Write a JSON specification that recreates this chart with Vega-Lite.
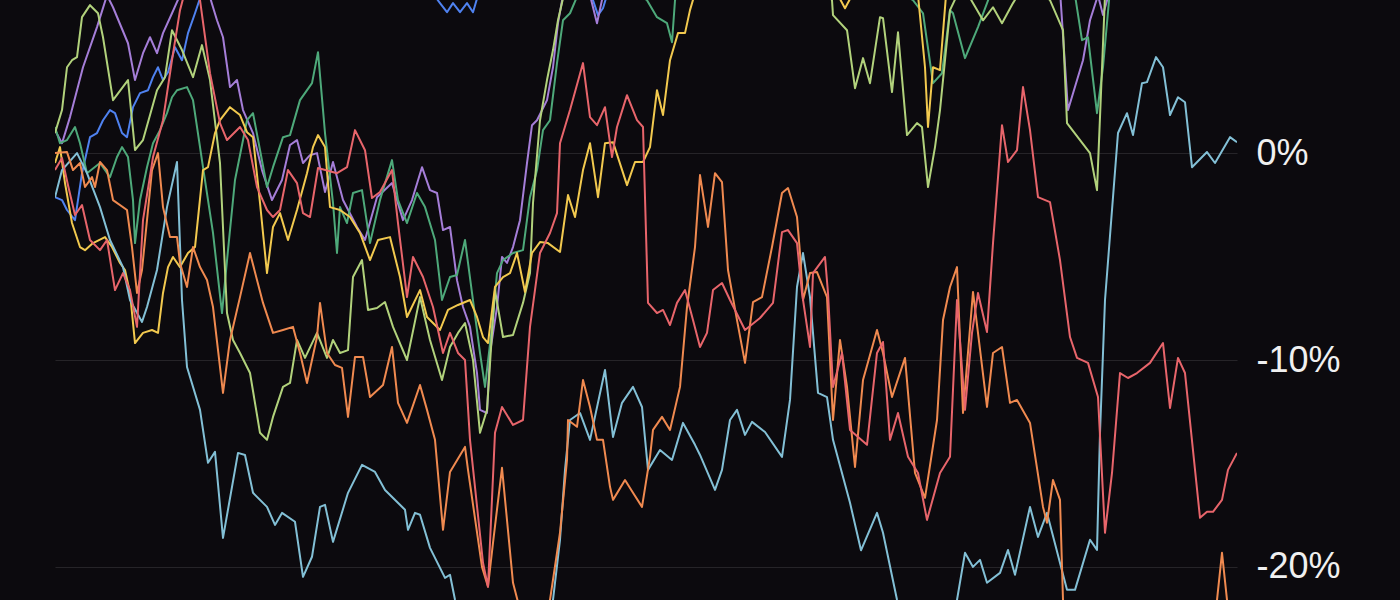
{
"$schema": "https://vega.github.io/schema/vega-lite/v6.json",
"width": 1182, "height": 600,
"autosize": {"type": "none"},
"padding": {"left": 55, "top": 0, "right": 163, "bottom": 0},
"background": "#0c0a0e",
"config": {"view": {"stroke": null}},
"data": {"values": [
{"s":"Blue","d":0,"v":-2.13},{"s":"Blue","d":1.4,"v":-2.27},{"s":"Blue","d":2.4,"v":-2.75},{"s":"Blue","d":4,"v":-3.24},{"s":"Blue","d":5.4,"v":-0.97},{"s":"Blue","d":7,"v":0.77},{"s":"Blue","d":8.4,"v":0.97},{"s":"Blue","d":9.6,"v":1.59},{"s":"Blue","d":11,"v":2.08},{"s":"Blue","d":12,"v":1.93},{"s":"Blue","d":13.4,"v":0.97},{"s":"Blue","d":14.4,"v":0.77},{"s":"Blue","d":15.6,"v":2.22},{"s":"Blue","d":17,"v":2.9},{"s":"Blue","d":18.6,"v":3.04},{"s":"Blue","d":19.6,"v":3.67},{"s":"Blue","d":20.6,"v":4.15},{"s":"Blue","d":21.6,"v":3.53},{"s":"Blue","d":22.6,"v":3.91},{"s":"Blue","d":24,"v":5.12},{"s":"Blue","d":25.4,"v":4.49},{"s":"Blue","d":26.6,"v":5.8},{"s":"Blue","d":28,"v":6.76},{"s":"Blue","d":30,"v":8.2},{"s":"Blue","d":35,"v":9.0},{"s":"Blue","d":41,"v":9.6},{"s":"Blue","d":49,"v":10.2},{"s":"Blue","d":57,"v":9.8},{"s":"Blue","d":65,"v":9.2},{"s":"Blue","d":71,"v":8.6},{"s":"Blue","d":75,"v":7.9},{"s":"Blue","d":77,"v":7.25},{"s":"Blue","d":78.4,"v":6.81},{"s":"Blue","d":79.6,"v":7.25},{"s":"Blue","d":81,"v":6.81},{"s":"Blue","d":82.4,"v":7.25},{"s":"Blue","d":83.6,"v":6.81},{"s":"Blue","d":84.6,"v":7.63},{"s":"Blue","d":87,"v":8.3},{"s":"Blue","d":93,"v":9.5},{"s":"Blue","d":101,"v":10.1},{"s":"Blue","d":106,"v":8.0},{"s":"Blue","d":107.6,"v":7.39},{"s":"Blue","d":108.6,"v":6.67},{"s":"Blue","d":109.6,"v":7.0},{"s":"Blue","d":110.6,"v":7.8},{"s":"Blue","d":115,"v":9.5},{"s":"Blue","d":125,"v":11.2},{"s":"Blue","d":139,"v":10.4},{"s":"Blue","d":153,"v":11.0},{"s":"Blue","d":169,"v":10.2},{"s":"Blue","d":185,"v":11.6},{"s":"Blue","d":199,"v":10.8},{"s":"Blue","d":213,"v":12.0},{"s":"Blue","d":225,"v":11.3},{"s":"Blue","d":236.4,"v":12.0},
{"s":"Purple","d":0,"v":1.11},{"s":"Purple","d":1.4,"v":0.48},{"s":"Purple","d":3,"v":1.74},{"s":"Purple","d":5.6,"v":4.15},{"s":"Purple","d":8.4,"v":6.09},{"s":"Purple","d":10.4,"v":7.63},{"s":"Purple","d":11.6,"v":7.05},{"s":"Purple","d":14.6,"v":5.31},{"s":"Purple","d":16,"v":3.53},{"s":"Purple","d":17.6,"v":4.83},{"s":"Purple","d":19,"v":5.6},{"s":"Purple","d":20.4,"v":4.83},{"s":"Purple","d":21.6,"v":5.8},{"s":"Purple","d":23.4,"v":6.76},{"s":"Purple","d":25,"v":7.63},{"s":"Purple","d":28,"v":8.4},{"s":"Purple","d":31,"v":7.53},{"s":"Purple","d":32.4,"v":6.42},{"s":"Purple","d":33.6,"v":5.6},{"s":"Purple","d":35,"v":3.19},{"s":"Purple","d":36.4,"v":3.53},{"s":"Purple","d":37.6,"v":2.08},{"s":"Purple","d":39.6,"v":0.97},{"s":"Purple","d":41.4,"v":-0.82},{"s":"Purple","d":43.4,"v":-2.27},{"s":"Purple","d":45.4,"v":-1.3},{"s":"Purple","d":47,"v":0.39},{"s":"Purple","d":48.4,"v":0.63},{"s":"Purple","d":49.6,"v":-0.48},{"s":"Purple","d":51,"v":-0.1},{"s":"Purple","d":52.4,"v":0.0},{"s":"Purple","d":54,"v":-1.88},{"s":"Purple","d":55.6,"v":-0.43},{"s":"Purple","d":57.6,"v":-2.27},{"s":"Purple","d":60.4,"v":-3.57},{"s":"Purple","d":62,"v":-4.2},{"s":"Purple","d":64.4,"v":-2.13},{"s":"Purple","d":67.4,"v":-1.45},{"s":"Purple","d":69.6,"v":-3.24},{"s":"Purple","d":71.4,"v":-2.27},{"s":"Purple","d":73.4,"v":-0.68},{"s":"Purple","d":75,"v":-1.79},{"s":"Purple","d":76.4,"v":-1.93},{"s":"Purple","d":77.6,"v":-3.72},{"s":"Purple","d":79,"v":-3.57},{"s":"Purple","d":80.4,"v":-6.14},{"s":"Purple","d":81.6,"v":-7.44},{"s":"Purple","d":83,"v":-8.4},{"s":"Purple","d":84.4,"v":-10.63},{"s":"Purple","d":85,"v":-12.41},{"s":"Purple","d":86.4,"v":-12.56},{"s":"Purple","d":87,"v":-9.66},{"s":"Purple","d":88.4,"v":-7.44},{"s":"Purple","d":89.4,"v":-5.02},{"s":"Purple","d":90.4,"v":-5.31},{"s":"Purple","d":91.6,"v":-4.54},{"s":"Purple","d":93,"v":-3.24},{"s":"Purple","d":94.4,"v":-0.48},{"s":"Purple","d":95.4,"v":1.35},{"s":"Purple","d":96.4,"v":1.59},{"s":"Purple","d":98.4,"v":2.56},{"s":"Purple","d":99.6,"v":4.15},{"s":"Purple","d":100.6,"v":6.28},{"s":"Purple","d":101.6,"v":7.63},{"s":"Purple","d":104,"v":8.5},{"s":"Purple","d":107,"v":7.63},{"s":"Purple","d":108.4,"v":6.28},{"s":"Purple","d":109.6,"v":7.63},{"s":"Purple","d":113,"v":9.0},{"s":"Purple","d":125,"v":10.5},{"s":"Purple","d":141,"v":9.8},{"s":"Purple","d":157,"v":10.6},{"s":"Purple","d":173,"v":9.6},{"s":"Purple","d":187,"v":10.3},{"s":"Purple","d":199,"v":9.0},{"s":"Purple","d":201,"v":7.87},{"s":"Purple","d":202.6,"v":2.08},{"s":"Purple","d":205.6,"v":4.49},{"s":"Purple","d":207,"v":6.42},{"s":"Purple","d":208.6,"v":7.63},{"s":"Purple","d":209.6,"v":6.67},{"s":"Purple","d":211,"v":7.9},{"s":"Purple","d":221,"v":9.8},{"s":"Purple","d":236.4,"v":10.5},
{"s":"Green","d":0,"v":1.26},{"s":"Green","d":1,"v":0.48},{"s":"Green","d":2.4,"v":0.63},{"s":"Green","d":4,"v":1.26},{"s":"Green","d":5,"v":0.48},{"s":"Green","d":6.4,"v":-0.97},{"s":"Green","d":9,"v":-0.48},{"s":"Green","d":11,"v":-1.16},{"s":"Green","d":12.4,"v":-0.19},{"s":"Green","d":13.4,"v":0.29},{"s":"Green","d":14.6,"v":-0.19},{"s":"Green","d":15.6,"v":-2.27},{"s":"Green","d":16,"v":-4.35},{"s":"Green","d":17,"v":-2.27},{"s":"Green","d":18.4,"v":-0.68},{"s":"Green","d":19.6,"v":0.48},{"s":"Green","d":21,"v":1.11},{"s":"Green","d":22.4,"v":1.93},{"s":"Green","d":23.4,"v":2.7},{"s":"Green","d":24.4,"v":3.04},{"s":"Green","d":26.4,"v":3.19},{"s":"Green","d":27.6,"v":2.56},{"s":"Green","d":29.6,"v":-0.68},{"s":"Green","d":31.6,"v":-3.86},{"s":"Green","d":33.4,"v":-7.73},{"s":"Green","d":34.6,"v":-4.69},{"s":"Green","d":36,"v":-1.3},{"s":"Green","d":38.4,"v":1.59},{"s":"Green","d":39.6,"v":1.93},{"s":"Green","d":41,"v":0.15},{"s":"Green","d":42.4,"v":-1.64},{"s":"Green","d":43.6,"v":-0.68},{"s":"Green","d":45.6,"v":0.77},{"s":"Green","d":47,"v":0.87},{"s":"Green","d":49,"v":2.56},{"s":"Green","d":51.4,"v":3.38},{"s":"Green","d":52.6,"v":4.88},{"s":"Green","d":54,"v":0.97},{"s":"Green","d":55.6,"v":-2.41},{"s":"Green","d":56.4,"v":-4.83},{"s":"Green","d":57,"v":-2.61},{"s":"Green","d":58.4,"v":-3.38},{"s":"Green","d":59.6,"v":-1.93},{"s":"Green","d":61.4,"v":-1.79},{"s":"Green","d":63,"v":-4.35},{"s":"Green","d":65,"v":-2.27},{"s":"Green","d":67.4,"v":-0.34},{"s":"Green","d":68.6,"v":-2.27},{"s":"Green","d":70.4,"v":-3.38},{"s":"Green","d":72.4,"v":-1.93},{"s":"Green","d":74,"v":-2.61},{"s":"Green","d":76,"v":-4.2},{"s":"Green","d":77.4,"v":-7.1},{"s":"Green","d":79,"v":-5.99},{"s":"Green","d":80.4,"v":-5.89},{"s":"Green","d":82,"v":-4.2},{"s":"Green","d":83.4,"v":-6.76},{"s":"Green","d":85,"v":-9.66},{"s":"Green","d":86,"v":-11.3},{"s":"Green","d":87.4,"v":-8.4},{"s":"Green","d":88.4,"v":-5.8},{"s":"Green","d":89.6,"v":-5.17},{"s":"Green","d":91.6,"v":-4.83},{"s":"Green","d":93.6,"v":-4.69},{"s":"Green","d":95,"v":-2.13},{"s":"Green","d":96.4,"v":-0.82},{"s":"Green","d":97.6,"v":1.11},{"s":"Green","d":99,"v":1.59},{"s":"Green","d":100.4,"v":4.35},{"s":"Green","d":101.6,"v":6.42},{"s":"Green","d":103,"v":6.76},{"s":"Green","d":105,"v":7.9},{"s":"Green","d":111,"v":9.3},{"s":"Green","d":117,"v":7.63},{"s":"Green","d":118.4,"v":7.39},{"s":"Green","d":120.4,"v":6.57},{"s":"Green","d":122.4,"v":6.28},{"s":"Green","d":123.4,"v":5.36},{"s":"Green","d":124,"v":7.39},{"s":"Green","d":125,"v":7.9},{"s":"Green","d":133,"v":9.2},{"s":"Green","d":145,"v":10.0},{"s":"Green","d":159,"v":9.1},{"s":"Green","d":170,"v":7.63},{"s":"Green","d":171.6,"v":7.39},{"s":"Green","d":173.6,"v":6.76},{"s":"Green","d":175.6,"v":3.38},{"s":"Green","d":177.4,"v":3.86},{"s":"Green","d":179,"v":6.91},{"s":"Green","d":179.6,"v":6.76},{"s":"Green","d":182,"v":4.59},{"s":"Green","d":184.6,"v":6.09},{"s":"Green","d":187,"v":7.63},{"s":"Green","d":195,"v":8.6},{"s":"Green","d":204,"v":7.63},{"s":"Green","d":205.4,"v":5.46},{"s":"Green","d":206.6,"v":5.6},{"s":"Green","d":208.4,"v":1.93},{"s":"Green","d":209.6,"v":4.15},{"s":"Green","d":211,"v":7.9},{"s":"Green","d":223,"v":9.0},{"s":"Green","d":236.4,"v":9.6},
{"s":"Lime","d":0,"v":0.97},{"s":"Lime","d":1.4,"v":2.08},{"s":"Lime","d":2.4,"v":4.15},{"s":"Lime","d":3.4,"v":4.49},{"s":"Lime","d":4.4,"v":4.64},{"s":"Lime","d":5.4,"v":6.57},{"s":"Lime","d":7,"v":7.15},{"s":"Lime","d":8.6,"v":6.76},{"s":"Lime","d":9.6,"v":5.6},{"s":"Lime","d":11.6,"v":2.56},{"s":"Lime","d":14.6,"v":3.53},{"s":"Lime","d":16,"v":0.15},{"s":"Lime","d":17.6,"v":0.63},{"s":"Lime","d":20.4,"v":3.04},{"s":"Lime","d":22,"v":3.67},{"s":"Lime","d":23.4,"v":5.94},{"s":"Lime","d":25.4,"v":4.98},{"s":"Lime","d":27.6,"v":3.67},{"s":"Lime","d":29.4,"v":5.22},{"s":"Lime","d":31,"v":3.53},{"s":"Lime","d":33,"v":-0.48},{"s":"Lime","d":34.4,"v":-7.73},{"s":"Lime","d":35.6,"v":-9.03},{"s":"Lime","d":37,"v":-9.66},{"s":"Lime","d":39,"v":-10.63},{"s":"Lime","d":41,"v":-13.52},{"s":"Lime","d":42.4,"v":-13.86},{"s":"Lime","d":43.6,"v":-12.75},{"s":"Lime","d":45.6,"v":-11.3},{"s":"Lime","d":47,"v":-11.11},{"s":"Lime","d":48.4,"v":-9.03},{"s":"Lime","d":50,"v":-9.9},{"s":"Lime","d":52.4,"v":-8.69},{"s":"Lime","d":54.4,"v":-9.9},{"s":"Lime","d":55.6,"v":-9.03},{"s":"Lime","d":57,"v":-9.66},{"s":"Lime","d":58.6,"v":-9.52},{"s":"Lime","d":59.6,"v":-5.99},{"s":"Lime","d":61.4,"v":-5.17},{"s":"Lime","d":62.6,"v":-7.58},{"s":"Lime","d":64.4,"v":-7.49},{"s":"Lime","d":66,"v":-7.2},{"s":"Lime","d":67.6,"v":-8.4},{"s":"Lime","d":70.4,"v":-10.0},{"s":"Lime","d":73,"v":-6.96},{"s":"Lime","d":75,"v":-9.03},{"s":"Lime","d":77.4,"v":-10.97},{"s":"Lime","d":79,"v":-9.37},{"s":"Lime","d":80.6,"v":-8.69},{"s":"Lime","d":82,"v":-8.21},{"s":"Lime","d":83.6,"v":-10.0},{"s":"Lime","d":85,"v":-13.52},{"s":"Lime","d":86.4,"v":-12.41},{"s":"Lime","d":87.4,"v":-8.69},{"s":"Lime","d":88,"v":-6.62},{"s":"Lime","d":89.6,"v":-8.89},{"s":"Lime","d":91.6,"v":-8.79},{"s":"Lime","d":93.6,"v":-7.24},{"s":"Lime","d":95,"v":-5.8},{"s":"Lime","d":95.6,"v":-2.41},{"s":"Lime","d":97,"v":1.59},{"s":"Lime","d":98.4,"v":3.53},{"s":"Lime","d":99.6,"v":4.98},{"s":"Lime","d":100.6,"v":6.42},{"s":"Lime","d":102,"v":7.9},{"s":"Lime","d":113,"v":9.8},{"s":"Lime","d":129,"v":10.6},{"s":"Lime","d":145,"v":9.6},{"s":"Lime","d":154,"v":7.9},{"s":"Lime","d":155.4,"v":7.39},{"s":"Lime","d":155.6,"v":6.67},{"s":"Lime","d":158.4,"v":5.94},{"s":"Lime","d":160,"v":3.14},{"s":"Lime","d":161.6,"v":4.59},{"s":"Lime","d":163,"v":3.38},{"s":"Lime","d":165,"v":6.57},{"s":"Lime","d":165.6,"v":6.52},{"s":"Lime","d":167.4,"v":2.95},{"s":"Lime","d":168.6,"v":5.84},{"s":"Lime","d":170.4,"v":0.87},{"s":"Lime","d":172.4,"v":1.45},{"s":"Lime","d":173.4,"v":1.26},{"s":"Lime","d":174.6,"v":-1.64},{"s":"Lime","d":176,"v":0.29},{"s":"Lime","d":177,"v":2.08},{"s":"Lime","d":179,"v":6.91},{"s":"Lime","d":180.4,"v":7.63},{"s":"Lime","d":183,"v":7.5},{"s":"Lime","d":185.6,"v":6.42},{"s":"Lime","d":187.6,"v":7.05},{"s":"Lime","d":189.4,"v":6.28},{"s":"Lime","d":191.6,"v":7.25},{"s":"Lime","d":193,"v":7.8},{"s":"Lime","d":198,"v":7.63},{"s":"Lime","d":199,"v":7.39},{"s":"Lime","d":201.6,"v":5.94},{"s":"Lime","d":202.4,"v":1.45},{"s":"Lime","d":207,"v":0.0},{"s":"Lime","d":208.4,"v":-1.79},{"s":"Lime","d":210,"v":7.63},{"s":"Lime","d":221,"v":9.5},{"s":"Lime","d":236.4,"v":10.2},
{"s":"Yellow","d":0,"v":-0.48},{"s":"Yellow","d":1,"v":0.29},{"s":"Yellow","d":2,"v":-1.45},{"s":"Yellow","d":3.4,"v":-3.38},{"s":"Yellow","d":5,"v":-4.54},{"s":"Yellow","d":6,"v":-4.69},{"s":"Yellow","d":7.6,"v":-4.35},{"s":"Yellow","d":10,"v":-4.06},{"s":"Yellow","d":11.4,"v":-4.54},{"s":"Yellow","d":13,"v":-5.31},{"s":"Yellow","d":14,"v":-5.65},{"s":"Yellow","d":15,"v":-6.76},{"s":"Yellow","d":16,"v":-9.18},{"s":"Yellow","d":17.6,"v":-8.69},{"s":"Yellow","d":19.4,"v":-8.55},{"s":"Yellow","d":20.6,"v":-8.69},{"s":"Yellow","d":21.6,"v":-6.76},{"s":"Yellow","d":22.6,"v":-5.51},{"s":"Yellow","d":23.6,"v":-5.02},{"s":"Yellow","d":25,"v":-5.51},{"s":"Yellow","d":26.6,"v":-4.83},{"s":"Yellow","d":28,"v":-4.54},{"s":"Yellow","d":29.6,"v":-0.82},{"s":"Yellow","d":30.6,"v":-0.68},{"s":"Yellow","d":32,"v":0.97},{"s":"Yellow","d":33,"v":1.59},{"s":"Yellow","d":35,"v":2.22},{"s":"Yellow","d":37,"v":1.84},{"s":"Yellow","d":38.4,"v":1.01},{"s":"Yellow","d":39.6,"v":0.77},{"s":"Yellow","d":41,"v":-2.41},{"s":"Yellow","d":42.4,"v":-5.8},{"s":"Yellow","d":43.6,"v":-3.57},{"s":"Yellow","d":45,"v":-2.9},{"s":"Yellow","d":46.6,"v":-4.2},{"s":"Yellow","d":48.4,"v":-2.75},{"s":"Yellow","d":50.4,"v":-0.97},{"s":"Yellow","d":51.6,"v":0.29},{"s":"Yellow","d":52.6,"v":0.87},{"s":"Yellow","d":54,"v":0.29},{"s":"Yellow","d":55,"v":-2.61},{"s":"Yellow","d":57,"v":-2.75},{"s":"Yellow","d":59,"v":-3.09},{"s":"Yellow","d":61,"v":-3.86},{"s":"Yellow","d":63,"v":-5.17},{"s":"Yellow","d":64.6,"v":-4.2},{"s":"Yellow","d":67,"v":-4.06},{"s":"Yellow","d":69,"v":-5.99},{"s":"Yellow","d":70.4,"v":-7.92},{"s":"Yellow","d":73,"v":-6.62},{"s":"Yellow","d":74.4,"v":-7.92},{"s":"Yellow","d":77,"v":-8.55},{"s":"Yellow","d":78.6,"v":-7.58},{"s":"Yellow","d":80.6,"v":-7.34},{"s":"Yellow","d":83,"v":-7.1},{"s":"Yellow","d":84.4,"v":-7.92},{"s":"Yellow","d":85.6,"v":-8.89},{"s":"Yellow","d":86.6,"v":-9.18},{"s":"Yellow","d":88,"v":-6.47},{"s":"Yellow","d":89.6,"v":-5.99},{"s":"Yellow","d":91,"v":-5.8},{"s":"Yellow","d":92.4,"v":-4.83},{"s":"Yellow","d":94,"v":-6.71},{"s":"Yellow","d":95.4,"v":-4.83},{"s":"Yellow","d":97,"v":-4.3},{"s":"Yellow","d":98.6,"v":-4.35},{"s":"Yellow","d":101,"v":-4.78},{"s":"Yellow","d":102.6,"v":-2.03},{"s":"Yellow","d":104,"v":-3.09},{"s":"Yellow","d":105.6,"v":-0.82},{"s":"Yellow","d":107,"v":0.48},{"s":"Yellow","d":108.6,"v":-2.13},{"s":"Yellow","d":110,"v":0.48},{"s":"Yellow","d":111.6,"v":0.53},{"s":"Yellow","d":114.4,"v":-1.55},{"s":"Yellow","d":116,"v":-0.43},{"s":"Yellow","d":117.6,"v":-0.43},{"s":"Yellow","d":119,"v":0.29},{"s":"Yellow","d":120.4,"v":3.04},{"s":"Yellow","d":121.6,"v":1.84},{"s":"Yellow","d":123,"v":4.49},{"s":"Yellow","d":124.6,"v":5.8},{"s":"Yellow","d":126,"v":5.8},{"s":"Yellow","d":127,"v":6.91},{"s":"Yellow","d":128.2,"v":7.9},{"s":"Yellow","d":135,"v":9.4},{"s":"Yellow","d":147,"v":8.8},{"s":"Yellow","d":156.6,"v":7.63},{"s":"Yellow","d":158,"v":7.0},{"s":"Yellow","d":159.4,"v":7.63},{"s":"Yellow","d":165,"v":9.1},{"s":"Yellow","d":172.6,"v":7.63},{"s":"Yellow","d":174,"v":4.15},{"s":"Yellow","d":174.6,"v":1.26},{"s":"Yellow","d":175.6,"v":4.15},{"s":"Yellow","d":177,"v":4.01},{"s":"Yellow","d":178.2,"v":7.63},{"s":"Yellow","d":187,"v":9.6},{"s":"Yellow","d":201,"v":10.4},{"s":"Yellow","d":215,"v":11.0},{"s":"Yellow","d":236.4,"v":10.5},
{"s":"Cyan","d":0,"v":-2.13},{"s":"Cyan","d":1.4,"v":-0.82},{"s":"Cyan","d":4.4,"v":0},{"s":"Cyan","d":6.4,"v":-0.97},{"s":"Cyan","d":9,"v":-2.61},{"s":"Cyan","d":11,"v":-4.2},{"s":"Cyan","d":13.6,"v":-5.51},{"s":"Cyan","d":15,"v":-7.1},{"s":"Cyan","d":17.4,"v":-8.16},{"s":"Cyan","d":18.4,"v":-7.44},{"s":"Cyan","d":20.4,"v":-5.65},{"s":"Cyan","d":22.4,"v":-2.61},{"s":"Cyan","d":24.4,"v":-0.43},{"s":"Cyan","d":25.4,"v":-7.1},{"s":"Cyan","d":26.4,"v":-10.34},{"s":"Cyan","d":29,"v":-12.41},{"s":"Cyan","d":30.6,"v":-14.97},{"s":"Cyan","d":32,"v":-14.44},{"s":"Cyan","d":33.6,"v":-18.6},{"s":"Cyan","d":36.6,"v":-14.49},{"s":"Cyan","d":38,"v":-14.59},{"s":"Cyan","d":39.6,"v":-16.42},{"s":"Cyan","d":42.4,"v":-17.1},{"s":"Cyan","d":44,"v":-17.97},{"s":"Cyan","d":45.4,"v":-17.39},{"s":"Cyan","d":48,"v":-17.82},{"s":"Cyan","d":49.6,"v":-20.48},{"s":"Cyan","d":51.4,"v":-19.51},{"s":"Cyan","d":53,"v":-17.1},{"s":"Cyan","d":54,"v":-17.0},{"s":"Cyan","d":55.6,"v":-18.79},{"s":"Cyan","d":58.6,"v":-16.42},{"s":"Cyan","d":61.4,"v":-15.07},{"s":"Cyan","d":64,"v":-15.41},{"s":"Cyan","d":66,"v":-16.28},{"s":"Cyan","d":70,"v":-17.24},{"s":"Cyan","d":70.6,"v":-18.21},{"s":"Cyan","d":72,"v":-17.39},{"s":"Cyan","d":73,"v":-17.48},{"s":"Cyan","d":75,"v":-19.08},{"s":"Cyan","d":78,"v":-20.53},{"s":"Cyan","d":79,"v":-20.38},{"s":"Cyan","d":80,"v":-21.59},{"s":"Cyan","d":82,"v":-23.04},{"s":"Cyan","d":87,"v":-24.49},{"s":"Cyan","d":93,"v":-24.49},{"s":"Cyan","d":98,"v":-23.52},{"s":"Cyan","d":99.6,"v":-21.59},{"s":"Cyan","d":101,"v":-18.69},{"s":"Cyan","d":102,"v":-15.31},{"s":"Cyan","d":103,"v":-12.9},{"s":"Cyan","d":105,"v":-12.56},{"s":"Cyan","d":107,"v":-13.86},{"s":"Cyan","d":110,"v":-10.48},{"s":"Cyan","d":111.6,"v":-13.72},{"s":"Cyan","d":113.4,"v":-12.07},{"s":"Cyan","d":115.6,"v":-11.3},{"s":"Cyan","d":117.4,"v":-12.27},{"s":"Cyan","d":118.6,"v":-15.31},{"s":"Cyan","d":121,"v":-14.35},{"s":"Cyan","d":123.4,"v":-14.83},{"s":"Cyan","d":125.6,"v":-13.04},{"s":"Cyan","d":128,"v":-14.1},{"s":"Cyan","d":129,"v":-14.59},{"s":"Cyan","d":132,"v":-16.28},{"s":"Cyan","d":133.4,"v":-15.31},{"s":"Cyan","d":135,"v":-12.9},{"s":"Cyan","d":136.4,"v":-12.41},{"s":"Cyan","d":138,"v":-13.62},{"s":"Cyan","d":139.4,"v":-12.99},{"s":"Cyan","d":142,"v":-13.48},{"s":"Cyan","d":145.4,"v":-14.68},{"s":"Cyan","d":147,"v":-11.93},{"s":"Cyan","d":148.4,"v":-6.47},{"s":"Cyan","d":149.6,"v":-4.83},{"s":"Cyan","d":151,"v":-6.96},{"s":"Cyan","d":152.6,"v":-11.59},{"s":"Cyan","d":154.4,"v":-11.79},{"s":"Cyan","d":155.6,"v":-13.86},{"s":"Cyan","d":159,"v":-16.9},{"s":"Cyan","d":161.2,"v":-19.2},{"s":"Cyan","d":164.4,"v":-17.39},{"s":"Cyan","d":165.6,"v":-18.35},{"s":"Cyan","d":168.4,"v":-21.59},{"s":"Cyan","d":171,"v":-23.52},{"s":"Cyan","d":177,"v":-23.52},{"s":"Cyan","d":180.4,"v":-21.59},{"s":"Cyan","d":182,"v":-19.32},{"s":"Cyan","d":183.6,"v":-20.0},{"s":"Cyan","d":185,"v":-19.66},{"s":"Cyan","d":186.4,"v":-20.77},{"s":"Cyan","d":189,"v":-20.29},{"s":"Cyan","d":190.6,"v":-19.18},{"s":"Cyan","d":192,"v":-20.38},{"s":"Cyan","d":195,"v":-17.1},{"s":"Cyan","d":196.6,"v":-18.55},{"s":"Cyan","d":198.4,"v":-17.39},{"s":"Cyan","d":202.4,"v":-21.11},{"s":"Cyan","d":204,"v":-21.11},{"s":"Cyan","d":207,"v":-18.69},{"s":"Cyan","d":208.4,"v":-19.18},{"s":"Cyan","d":209,"v":-13.52},{"s":"Cyan","d":210,"v":-7.1},{"s":"Cyan","d":212.6,"v":0.97},{"s":"Cyan","d":214.4,"v":1.93},{"s":"Cyan","d":215.6,"v":0.87},{"s":"Cyan","d":217.4,"v":3.38},{"s":"Cyan","d":218.4,"v":3.43},{"s":"Cyan","d":220.2,"v":4.64},{"s":"Cyan","d":221.6,"v":4.15},{"s":"Cyan","d":223,"v":1.84},{"s":"Cyan","d":224.6,"v":2.7},{"s":"Cyan","d":226,"v":2.46},{"s":"Cyan","d":227.4,"v":-0.68},{"s":"Cyan","d":230.4,"v":0.05},{"s":"Cyan","d":232,"v":-0.48},{"s":"Cyan","d":235,"v":0.77},{"s":"Cyan","d":236.4,"v":0.53},
{"s":"Orange","d":0,"v":0.0},{"s":"Orange","d":2.4,"v":0.05},{"s":"Orange","d":3.6,"v":-0.82},{"s":"Orange","d":5,"v":-0.48},{"s":"Orange","d":6,"v":-1.64},{"s":"Orange","d":7.4,"v":-1.16},{"s":"Orange","d":8,"v":-1.64},{"s":"Orange","d":9,"v":-0.43},{"s":"Orange","d":10.4,"v":-0.82},{"s":"Orange","d":11.6,"v":-2.27},{"s":"Orange","d":14.4,"v":-2.75},{"s":"Orange","d":15.4,"v":-4.54},{"s":"Orange","d":16.4,"v":-6.76},{"s":"Orange","d":17.4,"v":-5.65},{"s":"Orange","d":18.4,"v":-3.24},{"s":"Orange","d":19.4,"v":-0.82},{"s":"Orange","d":20.6,"v":0.0},{"s":"Orange","d":21.6,"v":-2.61},{"s":"Orange","d":23,"v":-4.06},{"s":"Orange","d":24.4,"v":-4.06},{"s":"Orange","d":25,"v":-5.31},{"s":"Orange","d":26.4,"v":-6.47},{"s":"Orange","d":27.6,"v":-4.54},{"s":"Orange","d":29,"v":-5.51},{"s":"Orange","d":30.4,"v":-6.13},{"s":"Orange","d":31.6,"v":-7.44},{"s":"Orange","d":33.6,"v":-11.59},{"s":"Orange","d":35,"v":-9.03},{"s":"Orange","d":37,"v":-6.96},{"s":"Orange","d":39,"v":-4.83},{"s":"Orange","d":40.4,"v":-6.13},{"s":"Orange","d":41.6,"v":-7.24},{"s":"Orange","d":43.6,"v":-8.69},{"s":"Orange","d":45.6,"v":-8.55},{"s":"Orange","d":47.6,"v":-8.4},{"s":"Orange","d":49,"v":-9.66},{"s":"Orange","d":50.4,"v":-11.11},{"s":"Orange","d":52.4,"v":-8.89},{"s":"Orange","d":53,"v":-7.24},{"s":"Orange","d":54.4,"v":-9.66},{"s":"Orange","d":56,"v":-10.24},{"s":"Orange","d":57.4,"v":-10.38},{"s":"Orange","d":58.6,"v":-12.75},{"s":"Orange","d":60,"v":-9.85},{"s":"Orange","d":61.6,"v":-9.85},{"s":"Orange","d":63,"v":-11.79},{"s":"Orange","d":65.6,"v":-11.21},{"s":"Orange","d":67.4,"v":-9.37},{"s":"Orange","d":68.6,"v":-12.07},{"s":"Orange","d":70.4,"v":-13.04},{"s":"Orange","d":73,"v":-11.21},{"s":"Orange","d":74.4,"v":-12.41},{"s":"Orange","d":76,"v":-13.86},{"s":"Orange","d":77.6,"v":-18.21},{"s":"Orange","d":79,"v":-15.41},{"s":"Orange","d":82,"v":-14.2},{"s":"Orange","d":82.6,"v":-15.31},{"s":"Orange","d":85.4,"v":-20.0},{"s":"Orange","d":86.6,"v":-20.96},{"s":"Orange","d":87.6,"v":-18.84},{"s":"Orange","d":89.4,"v":-15.21},{"s":"Orange","d":91.6,"v":-20.77},{"s":"Orange","d":93,"v":-22.07},{"s":"Orange","d":95,"v":-23.52},{"s":"Orange","d":98,"v":-22.56},{"s":"Orange","d":99,"v":-21.59},{"s":"Orange","d":101,"v":-18.35},{"s":"Orange","d":102.4,"v":-14.83},{"s":"Orange","d":102.6,"v":-12.9},{"s":"Orange","d":104.4,"v":-13.23},{"s":"Orange","d":105.6,"v":-10.97},{"s":"Orange","d":107,"v":-12.27},{"s":"Orange","d":108.4,"v":-13.86},{"s":"Orange","d":109.6,"v":-13.86},{"s":"Orange","d":111,"v":-16.13},{"s":"Orange","d":111.6,"v":-16.76},{"s":"Orange","d":114,"v":-15.8},{"s":"Orange","d":115.6,"v":-16.42},{"s":"Orange","d":117.4,"v":-17.1},{"s":"Orange","d":119,"v":-14.68},{"s":"Orange","d":119.6,"v":-13.38},{"s":"Orange","d":121.4,"v":-12.75},{"s":"Orange","d":123,"v":-13.38},{"s":"Orange","d":125,"v":-11.3},{"s":"Orange","d":126.4,"v":-7.44},{"s":"Orange","d":128,"v":-4.54},{"s":"Orange","d":129,"v":-1.06},{"s":"Orange","d":130.6,"v":-3.57},{"s":"Orange","d":132,"v":-0.97},{"s":"Orange","d":133.4,"v":-1.4},{"s":"Orange","d":134.6,"v":-5.65},{"s":"Orange","d":136.4,"v":-8.07},{"s":"Orange","d":138,"v":-10.14},{"s":"Orange","d":139.6,"v":-7.2},{"s":"Orange","d":141.4,"v":-6.96},{"s":"Orange","d":143.4,"v":-4.54},{"s":"Orange","d":145.4,"v":-1.93},{"s":"Orange","d":146.6,"v":-1.69},{"s":"Orange","d":148.4,"v":-3.09},{"s":"Orange","d":149,"v":-4.83},{"s":"Orange","d":149.6,"v":-7.1},{"s":"Orange","d":151,"v":-5.8},{"s":"Orange","d":152.4,"v":-5.75},{"s":"Orange","d":154.4,"v":-6.96},{"s":"Orange","d":155.6,"v":-12.9},{"s":"Orange","d":157,"v":-9.03},{"s":"Orange","d":158.4,"v":-11.3},{"s":"Orange","d":160,"v":-15.17},{"s":"Orange","d":161.6,"v":-10.97},{"s":"Orange","d":164.4,"v":-8.55},{"s":"Orange","d":165.6,"v":-9.66},{"s":"Orange","d":167.4,"v":-11.79},{"s":"Orange","d":170,"v":-9.9},{"s":"Orange","d":172,"v":-15.46},{"s":"Orange","d":174,"v":-16.66},{"s":"Orange","d":176.4,"v":-12.9},{"s":"Orange","d":177.6,"v":-8.07},{"s":"Orange","d":179,"v":-6.47},{"s":"Orange","d":180.4,"v":-5.51},{"s":"Orange","d":181.6,"v":-12.56},{"s":"Orange","d":183.6,"v":-6.71},{"s":"Orange","d":186.4,"v":-12.27},{"s":"Orange","d":187.6,"v":-9.66},{"s":"Orange","d":189.4,"v":-9.37},{"s":"Orange","d":191,"v":-12.07},{"s":"Orange","d":192.4,"v":-11.93},{"s":"Orange","d":195,"v":-13.04},{"s":"Orange","d":197.6,"v":-17.1},{"s":"Orange","d":198.4,"v":-17.87},{"s":"Orange","d":199.6,"v":-15.8},{"s":"Orange","d":201,"v":-16.76},{"s":"Orange","d":201.6,"v":-21.59},{"s":"Orange","d":203,"v":-24.49},{"s":"Orange","d":207,"v":-26.4},{"s":"Orange","d":213,"v":-25.5},{"s":"Orange","d":219,"v":-27.4},{"s":"Orange","d":225,"v":-26.0},{"s":"Orange","d":231,"v":-24.0},{"s":"Orange","d":232.4,"v":-21.59},{"s":"Orange","d":233.4,"v":-19.32},{"s":"Orange","d":234.4,"v":-21.59},{"s":"Orange","d":236.4,"v":-24.49},
{"s":"Coral","d":0,"v":-0.82},{"s":"Coral","d":1.4,"v":-0.24},{"s":"Coral","d":2.6,"v":-1.55},{"s":"Coral","d":4,"v":-2.99},{"s":"Coral","d":5.4,"v":-2.51},{"s":"Coral","d":7,"v":-4.2},{"s":"Coral","d":9,"v":-4.69},{"s":"Coral","d":10.4,"v":-4.2},{"s":"Coral","d":12,"v":-6.62},{"s":"Coral","d":13.6,"v":-5.8},{"s":"Coral","d":15,"v":-6.62},{"s":"Coral","d":16.4,"v":-8.4},{"s":"Coral","d":17.6,"v":-3.24},{"s":"Coral","d":19.6,"v":-0.19},{"s":"Coral","d":21.6,"v":1.59},{"s":"Coral","d":23.4,"v":4.49},{"s":"Coral","d":25,"v":6.91},{"s":"Coral","d":26.6,"v":8.36},{"s":"Coral","d":28,"v":8.1},{"s":"Coral","d":29,"v":7.39},{"s":"Coral","d":31,"v":3.86},{"s":"Coral","d":33,"v":1.45},{"s":"Coral","d":34.4,"v":0.63},{"s":"Coral","d":37,"v":1.26},{"s":"Coral","d":38.6,"v":0.63},{"s":"Coral","d":40.4,"v":-1.64},{"s":"Coral","d":42.4,"v":-2.75},{"s":"Coral","d":43.6,"v":-3.09},{"s":"Coral","d":45,"v":-2.75},{"s":"Coral","d":46.6,"v":-0.82},{"s":"Coral","d":48.4,"v":-1.45},{"s":"Coral","d":49.6,"v":-2.9},{"s":"Coral","d":51,"v":-3.09},{"s":"Coral","d":52.6,"v":-0.72},{"s":"Coral","d":56.4,"v":-0.97},{"s":"Coral","d":58.4,"v":-0.68},{"s":"Coral","d":60,"v":1.11},{"s":"Coral","d":62,"v":0.14},{"s":"Coral","d":63.4,"v":-2.17},{"s":"Coral","d":65,"v":-1.88},{"s":"Coral","d":67.4,"v":-0.82},{"s":"Coral","d":68.6,"v":-3.38},{"s":"Coral","d":70.4,"v":-6.96},{"s":"Coral","d":71.6,"v":-5.02},{"s":"Coral","d":73.6,"v":-5.99},{"s":"Coral","d":75.6,"v":-7.44},{"s":"Coral","d":77.6,"v":-9.66},{"s":"Coral","d":79,"v":-8.69},{"s":"Coral","d":80.6,"v":-9.66},{"s":"Coral","d":82,"v":-10.0},{"s":"Coral","d":83,"v":-13.86},{"s":"Coral","d":85.6,"v":-19.8},{"s":"Coral","d":86.6,"v":-20.96},{"s":"Coral","d":88,"v":-13.52},{"s":"Coral","d":89.4,"v":-12.27},{"s":"Coral","d":91.6,"v":-13.14},{"s":"Coral","d":93.6,"v":-12.9},{"s":"Coral","d":95,"v":-8.4},{"s":"Coral","d":97,"v":-4.83},{"s":"Coral","d":99,"v":-3.86},{"s":"Coral","d":100.4,"v":-2.9},{"s":"Coral","d":101,"v":0.48},{"s":"Coral","d":103,"v":2.08},{"s":"Coral","d":105.6,"v":4.35},{"s":"Coral","d":107,"v":1.74},{"s":"Coral","d":108.4,"v":1.35},{"s":"Coral","d":110,"v":2.22},{"s":"Coral","d":111.4,"v":-0.19},{"s":"Coral","d":112.4,"v":1.26},{"s":"Coral","d":114.4,"v":2.8},{"s":"Coral","d":116.4,"v":1.59},{"s":"Coral","d":117.6,"v":1.26},{"s":"Coral","d":118.6,"v":-7.24},{"s":"Coral","d":120.4,"v":-7.73},{"s":"Coral","d":121.6,"v":-7.58},{"s":"Coral","d":123,"v":-8.31},{"s":"Coral","d":124.4,"v":-7.24},{"s":"Coral","d":126,"v":-6.62},{"s":"Coral","d":127.6,"v":-8.07},{"s":"Coral","d":129,"v":-9.37},{"s":"Coral","d":130.4,"v":-8.69},{"s":"Coral","d":131.6,"v":-6.62},{"s":"Coral","d":133.4,"v":-6.28},{"s":"Coral","d":135,"v":-7.1},{"s":"Coral","d":138,"v":-8.55},{"s":"Coral","d":141,"v":-7.97},{"s":"Coral","d":143.6,"v":-7.24},{"s":"Coral","d":145.4,"v":-3.82},{"s":"Coral","d":146.6,"v":-3.72},{"s":"Coral","d":148.4,"v":-4.35},{"s":"Coral","d":149.4,"v":-6.76},{"s":"Coral","d":151,"v":-9.37},{"s":"Coral","d":151.6,"v":-5.8},{"s":"Coral","d":154,"v":-5.02},{"s":"Coral","d":154.6,"v":-6.76},{"s":"Coral","d":155.6,"v":-11.3},{"s":"Coral","d":157.4,"v":-9.66},{"s":"Coral","d":159,"v":-13.38},{"s":"Coral","d":162.4,"v":-14.1},{"s":"Coral","d":164.4,"v":-9.66},{"s":"Coral","d":165.6,"v":-9.13},{"s":"Coral","d":167,"v":-13.86},{"s":"Coral","d":168.6,"v":-12.56},{"s":"Coral","d":170.6,"v":-14.68},{"s":"Coral","d":172.6,"v":-15.46},{"s":"Coral","d":174.4,"v":-17.73},{"s":"Coral","d":177,"v":-15.46},{"s":"Coral","d":179,"v":-14.68},{"s":"Coral","d":180.4,"v":-7.1},{"s":"Coral","d":182,"v":-12.41},{"s":"Coral","d":183.4,"v":-8.69},{"s":"Coral","d":184.6,"v":-6.76},{"s":"Coral","d":186.4,"v":-8.65},{"s":"Coral","d":187.6,"v":-4.35},{"s":"Coral","d":189.4,"v":1.35},{"s":"Coral","d":190.6,"v":-0.43},{"s":"Coral","d":192.4,"v":0.14},{"s":"Coral","d":193.6,"v":3.19},{"s":"Coral","d":195,"v":1.11},{"s":"Coral","d":196.6,"v":-2.13},{"s":"Coral","d":199,"v":-2.37},{"s":"Coral","d":201,"v":-5.17},{"s":"Coral","d":203,"v":-8.89},{"s":"Coral","d":204.4,"v":-9.9},{"s":"Coral","d":206.6,"v":-10.14},{"s":"Coral","d":208.6,"v":-11.79},{"s":"Coral","d":210,"v":-18.35},{"s":"Coral","d":211.4,"v":-15.46},{"s":"Coral","d":213,"v":-10.63},{"s":"Coral","d":214.6,"v":-10.87},{"s":"Coral","d":216.4,"v":-10.63},{"s":"Coral","d":219,"v":-10.14},{"s":"Coral","d":221.6,"v":-9.18},{"s":"Coral","d":223,"v":-12.32},{"s":"Coral","d":224.6,"v":-9.9},{"s":"Coral","d":226,"v":-10.63},{"s":"Coral","d":229,"v":-17.63},{"s":"Coral","d":230.4,"v":-17.34},{"s":"Coral","d":231.6,"v":-17.34},{"s":"Coral","d":233.4,"v":-16.76},{"s":"Coral","d":234.6,"v":-15.31},{"s":"Coral","d":236.4,"v":-14.49}
]},
"mark": {"type": "line", "strokeWidth": 2, "clip": true, "strokeJoin": "round"},
"encoding": {
  "x": {"field": "d", "type": "quantitative", "scale": {"domain": [0, 236.4], "nice": false, "zero": false}, "axis": null},
  "y": {"field": "v", "type": "quantitative", "scale": {"domain": [-21.6, 7.4], "nice": false, "zero": false},
        "axis": {"orient": "right", "values": [0, -10, -20], "labelExpr": "datum.value + '%'", "title": null,
                 "grid": true, "gridColor": "#262428", "gridWidth": 1, "domain": false, "ticks": false,
                 "labelFont": "Liberation Sans", "labelFontSize": 36, "labelColor": "#f0f0f0", "labelPadding": 19}},
  "color": {"field": "s", "type": "nominal", "legend": null,
            "scale": {"domain": ["Blue", "Purple", "Green", "Lime", "Yellow", "Cyan", "Orange", "Coral"],
                      "range": ["#4f82f0", "#a57ed8", "#4ea97a", "#b2d27c", "#f2c94f", "#83c0d6", "#f08a50", "#e8656b"]}}
}
}
